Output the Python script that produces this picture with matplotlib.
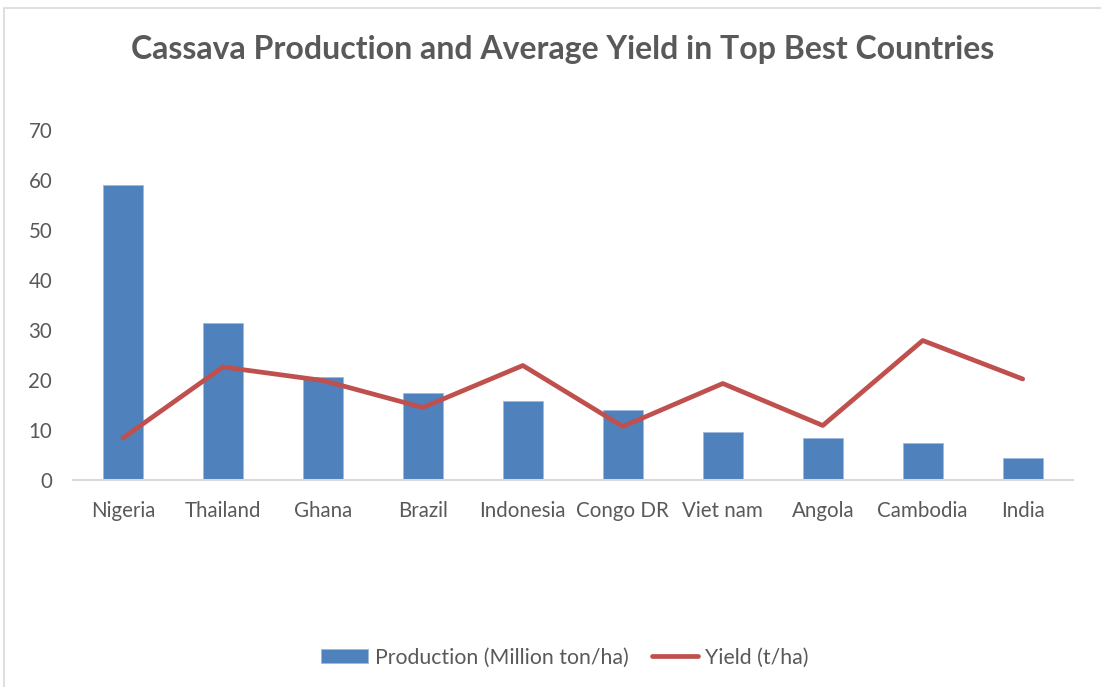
import matplotlib.pyplot as plt
from matplotlib.patches import Rectangle

plt.rcParams["font.family"] = ["Lato", "DejaVu Sans"]

# 数据
countries = ['Nigeria', 'Thailand', 'Ghana', 'Brazil', 'Indonesia',
             'Congo DR', 'Viet nam', 'Angola', 'Cambodia', 'India']
production = [59.0, 31.4, 20.6, 17.5, 15.9, 14.1, 9.7, 8.5, 7.5, 4.5]
yield_tha = [8.4, 22.6, 19.9, 14.5, 22.9, 10.7, 19.3, 10.9, 27.9, 20.2]

grey = '#595959'

fig = plt.figure(figsize=(11.01, 6.87), dpi=100)
ax = fig.add_axes([0.0663, 0.3013, 0.908, 0.5095])

x = range(len(countries))
bars = ax.bar(x, production, width=0.4, color='#4F81BD', edgecolor='#9DB9DE',
              linewidth=0.6, label='Production (Million ton/ha)', zorder=2)
line, = ax.plot(x, yield_tha, color='#C0504D', linewidth=3.4, solid_capstyle='round',
                label='Yield (t/ha)', zorder=3)

ax.set_xlim(-0.5, len(countries) - 0.5)
ax.set_ylim(0, 70)
ax.set_yticks(range(0, 71, 10))
ax.set_xticks(list(x))
ax.set_xticklabels(countries)
ax.tick_params(axis='both', length=0, labelsize=14.8, colors=grey)
ax.tick_params(axis='x', pad=15)
ax.tick_params(axis='y', pad=15)

for s in ['top', 'right', 'left']:
    ax.spines[s].set_visible(False)
ax.spines['bottom'].set_color('#D9D9D9')
ax.spines['bottom'].set_linewidth(1.5)

fig.text(0.511, 0.928, 'Cassava Production and Average Yield in Top Best Countries',
         ha='center', va='center', fontsize=23, fontweight='bold', color=grey)

fig.legend(handles=[bars, line], loc='center', bbox_to_anchor=(0.513, 0.043),
           ncol=2, frameon=False, fontsize=15.3, labelcolor=grey,
           handlelength=2.2, handletextpad=0.3, columnspacing=1.1)

fig.patches.append(Rectangle((4 / 1101, -0.1), 1.2, 0.1 + 679 / 687,
                             transform=fig.transFigure, fill=False,
                             edgecolor='#D9D9D9', linewidth=1.2))

plt.savefig('out.png', dpi=100)
